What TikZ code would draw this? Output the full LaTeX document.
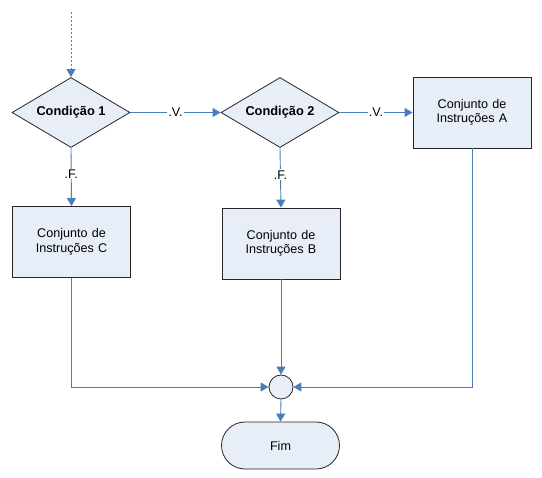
\documentclass[tikz,border=0pt]{standalone}
\usepackage{fontspec}
\setmainfont{Liberation Sans}
\usetikzlibrary{shapes.geometric,arrows.meta,shapes.misc}
\definecolor{fillb}{HTML}{E8EEF8}
\definecolor{lineb}{HTML}{4A7EBB}
\tikzset{
  x=1pt,y=-1pt,
  every node/.style={font=\fontsize{12.6}{14.5}\selectfont},
  decision/.style={diamond,draw=black!85,fill=fillb,line width=0.8pt,minimum width=118pt,minimum height=70pt,aspect=1.7,inner sep=0pt,font=\fontsize{12.8}{14.5}\selectfont\bfseries},
  procbox/.style={rectangle,draw=black!85,fill=fillb,line width=0.8pt,minimum width=118pt,minimum height=71pt,inner sep=0pt,align=center,text width=110pt},
  joinpt/.style={circle,draw=black!85,fill=fillb,line width=0.8pt,minimum size=24pt,inner sep=0pt},
  endterm/.style={rounded rectangle,draw=black!85,fill=fillb,line width=0.8pt,minimum width=118pt,minimum height=47pt,inner sep=0pt},
  flow/.style={draw=lineb,line width=0.9pt,-{Triangle[length=8pt,width=9pt]}},
  elabel/.style={fill=white,inner sep=1pt,font=\fontsize{12.6}{14.5}\selectfont}
}
\begin{document}
\begin{tikzpicture}
\useasboundingbox (0,0) rectangle (542,478);
\coordinate (start) at (71,12);
\node[decision] (c1) at (71,112.5) {Condição 1};
\node[decision] (c2) at (280,112.5) {Condição 2};
\node[procbox] (ia) at (472,112.5) {Conjunto de\\Instruções A};
\node[procbox] (ic) at (71.5,242) {Conjunto de\\Instruções C};
\node[procbox] (ib) at (281,243.5) {Conjunto de\\Instruções B};
\node[joinpt] (j) at (281,387) {};
\node[endterm] (fim) at (280.5,445.5) {Fim};

\draw[flow,dashed,dash pattern=on 2.5pt off 1.5pt] (start) -- (c1.north);
\draw[flow] (c1.east) -- node[elabel] {.V.} (c2.west);
\draw[flow] (c2.east) -- node[elabel] {.V.} (ia.west);
\draw[flow] (c1.south) -- node[elabel,pos=0.45] {.F.} (ic.north);
\draw[flow] (c2.south) -- node[elabel,pos=0.45] {.F.} (ib.north);
\draw[flow] (ic.south) |- (j.west);
\draw[flow] (ib.south) -- (j.north);
\draw[flow] (ia.south) |- (j.east);
\draw[flow] (j.south) -- (fim.north);
\end{tikzpicture}
\end{document}
